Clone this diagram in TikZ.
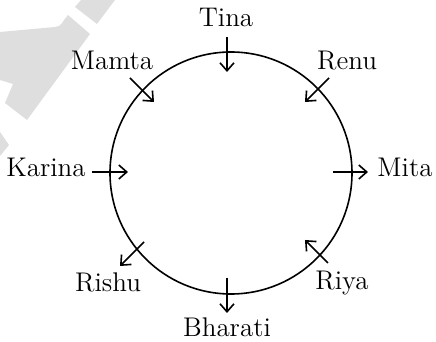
\documentclass[tikz,border=0pt]{standalone}
\usepackage{tikz}
\usetikzlibrary{arrows.meta}

\begin{document}
\begin{tikzpicture}[
    x=0.5pt, y=-0.5pt,
    every node/.style={font=\fontsize{13.5}{16}\selectfont},
    person/.style={anchor=base, inner sep=0pt},
    ring/.style={circle, draw, line width=0.8pt, minimum size=121pt, inner sep=0pt},
    pointer/.style={line width=0.8pt},
    >={Straight Barb[length=4pt, width=7pt]},
]
\useasboundingbox (0,0) rectangle (436,342);

% faint mark in the corner
\fill[black!13] (0,32) -- (55,27) to[out=0, in=225] (68,15) -- (90,34) -- (27,120)
    -- (5,103) -- (13,84) -- (0,80) -- cycle;
\fill[black!13] (75,7) -- (81,0) -- (115,0) -- (97,24) -- cycle;
\fill[black!13] (0,132) -- (9,145) -- (0,156) -- cycle;

\node[ring] (table) at (231,173) {};

\node[person] (tina) at (226,27) {Tina};
\node[person] (mamta) at (112,70) {Mamta};
\node[person] (renu) at (347,70) {Renu};
\node[person] (karina) at (46,177) {Karina};
\node[person] (mita) at (405,177) {Mita};
\node[person] (rishu) at (108,292) {Rishu};
\node[person] (riya) at (342,290) {Riya};
\node[person] (bharati) at (227,337) {Bharati};

\coordinate (tinaT) at (227,37);   \coordinate (tinaH) at (227,72);
\coordinate (mamtaT) at (130,78);  \coordinate (mamtaH) at (154,102);
\coordinate (renuT) at (329,78);   \coordinate (renuH) at (305,102);
\coordinate (karinaT) at (92,172); \coordinate (karinaH) at (128,172);
\coordinate (mitaT) at (333,172);  \coordinate (mitaH) at (368,172);
\coordinate (rishuT) at (144,242); \coordinate (rishuH) at (120,266);
\coordinate (riyaT) at (328,263);  \coordinate (riyaH) at (305,240);
\coordinate (bharatiT) at (227,278); \coordinate (bharatiH) at (227,313);

\draw[pointer, ->] (tinaT) -- (tinaH);
\draw[pointer, ->] (mamtaT) -- (mamtaH);
\draw[pointer, ->] (renuT) -- (renuH);
\draw[pointer, ->] (karinaT) -- (karinaH);
\draw[pointer, ->] (mitaT) -- (mitaH);
\draw[pointer, ->] (rishuT) -- (rishuH);
\draw[pointer, ->] (riyaT) -- (riyaH);
\draw[pointer, ->] (bharatiT) -- (bharatiH);
\end{tikzpicture}
\end{document}
